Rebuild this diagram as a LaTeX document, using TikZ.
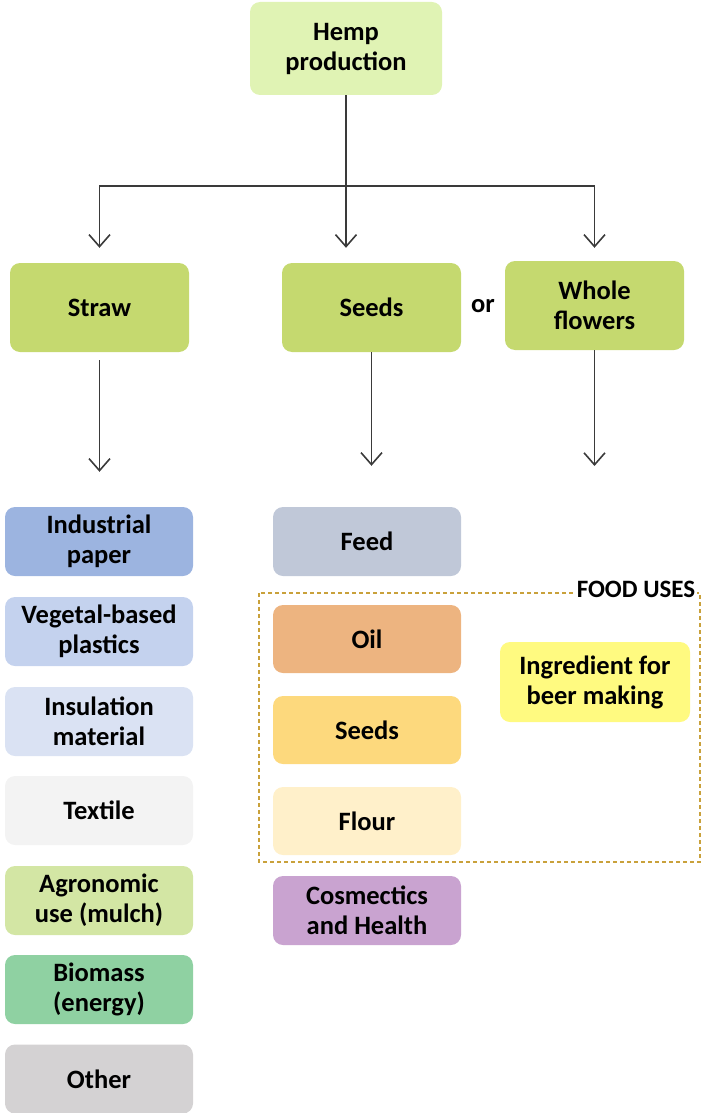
\documentclass[tikz,border=0pt]{standalone}
\usepackage{fontspec}
\setmainfont{Carlito}
\usetikzlibrary{arrows.meta}
\definecolor{chemp}{HTML}{E0F3B4}
\definecolor{cmain}{HTML}{C5D96F}
\definecolor{cind}{HTML}{9CB4E0}
\definecolor{cveg}{HTML}{C4D2EE}
\definecolor{cins}{HTML}{DAE2F3}
\definecolor{ctex}{HTML}{F3F3F3}
\definecolor{cagr}{HTML}{D3E6A4}
\definecolor{cbio}{HTML}{8FD1A2}
\definecolor{coth}{HTML}{D4D2D3}
\definecolor{cfeed}{HTML}{C0C8D8}
\definecolor{coil}{HTML}{EDB480}
\definecolor{cseed}{HTML}{FDD97D}
\definecolor{cflour}{HTML}{FFF0CA}
\definecolor{ccos}{HTML}{C9A3D0}
\definecolor{cing}{HTML}{FFFA80}
\definecolor{cdash}{HTML}{C9A13B}
\definecolor{cline}{HTML}{3A3A3A}
\tikzset{
  box/.style={rounded corners=10pt, draw=none, align=center,
    font=\fontsize{26.5}{30}\selectfont\bfseries, text=black, inner sep=0pt},
  colbox/.style={box, minimum width=188pt, minimum height=69pt},
  mainbox/.style={box, fill=cmain, minimum width=179pt, minimum height=89pt},
  arr/.style={draw=cline, line width=1.6pt, -{Straight Barb[length=12pt,width=21pt,line width=1.6pt]}},
  lbl/.style={font=\fontsize{26.5}{30}\selectfont\bfseries, text=black, inner sep=1pt}
}
\begin{document}
\begin{tikzpicture}[x=1pt,y=-1pt]
\useasboundingbox (0,0) rectangle (707,1113);
% top
\node[box, fill=chemp, minimum width=192pt, minimum height=93pt] (hemp) at (346,48.5) {Hemp\\production};
\node[mainbox] (straw) at (99.5,307.5) {Straw};
\node[mainbox] (seeds) at (371.5,307.5) {Seeds};
\node[mainbox] (whole) at (594.5,305.5) {Whole\\flowers};
\node[lbl] (or) at (483,306) {or};
% left column
\node[colbox, fill=cind] (ind) at (99,541.5) {Industrial\\paper};
\node[colbox, fill=cveg] (veg) at (99,631.5) {Vegetal-based\\plastics};
\node[colbox, fill=cins] (ins) at (99,721.5) {Insulation\\material};
\node[colbox, fill=ctex] (tex) at (99,810.5) {Textile};
\node[colbox, fill=cagr] (agr) at (99,900.5) {Agronomic\\use (mulch)};
\node[colbox, fill=cbio] (bio) at (99,989.5) {Biomass\\(energy)};
\node[colbox, fill=coth] (oth) at (99,1079) {Other};
% middle column
\node[colbox, fill=cfeed] (feed) at (367,541.5) {Feed};
\node[colbox, fill=coil, minimum height=68pt] (oil) at (367,639) {Oil};
\node[colbox, fill=cseed, minimum height=68pt] (seed2) at (367,730) {Seeds};
\node[colbox, fill=cflour, minimum height=68pt] (flour) at (367,821) {Flour};
\node[colbox, fill=ccos] (cos) at (367,910.5) {Cosmectics\\and Health};
% food uses
\node[box, fill=cing, minimum width=190pt, minimum height=80pt] (ing) at (595,682) {Ingredient for\\beer making};
\draw[cdash, line width=1.3pt, dash pattern=on 4pt off 3pt] (259,593) rectangle (700,862);
\node[lbl, fill=white, inner sep=2pt, font=\fontsize{25}{30}\selectfont\bfseries] (food) at (636,589) {FOOD USES};
% connectors
\coordinate (j) at (346,186);
\coordinate (wend) at (594.5,466);
\draw[arr, shorten >=15pt] (hemp.south) -- (hemp.south |- seeds.north);
\draw[arr, shorten >=15pt] (j) -| (straw.north);
\draw[arr, shorten >=13pt] (j) -| (whole.north);
\draw[arr, shorten <=8pt, shorten >=35pt] (straw.south) -- (straw.south |- ind.north);
\draw[arr, shorten >=41pt] (seeds.south) -- (seeds.south |- feed.north);
\draw[arr] (whole.south) -- (wend);
\end{tikzpicture}
\end{document}
